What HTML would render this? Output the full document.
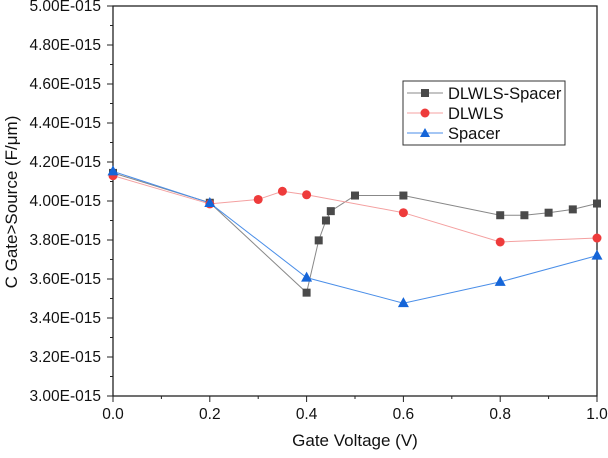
<!DOCTYPE html>
<html><head><meta charset="utf-8"><style>
body{margin:0;background:#fff;}
svg{display:block;font-family:"Liberation Sans",Arial,sans-serif;}
</style></head><body>
<svg id="chart" width="608" height="458">
<g id="axes"></g><g id="series"></g>
<g>
<rect x="403" y="81" width="162" height="64" fill="#fff" stroke="#333" stroke-width="1"/>
<g>
<line x1="407" y1="93" x2="443" y2="93" stroke="#888" stroke-width="1"/>
<rect x="421" y="89" width="8" height="8" fill="#4a4a4a"/>
<text x="448" y="99" font-size="16.5" fill="#111">DLWLS-Spacer</text></g>
<g>
<line x1="407" y1="113" x2="443" y2="113" stroke="#f4a0a0" stroke-width="1"/>
<circle cx="425" cy="113" r="4.5" fill="#ee3b3b"/>
<text x="448" y="119" font-size="16.5" fill="#111">DLWLS</text></g>
<g>
<line x1="407" y1="133" x2="443" y2="133" stroke="#4a8ee8" stroke-width="1"/>
<polygon points="425,128 430,137 420,137" fill="#1565d8"/>
<text x="448" y="139" font-size="16.5" fill="#111">Spacer</text></g>
</g>
<text x="355" y="446" font-size="17" text-anchor="middle" fill="#111">Gate Voltage (V)</text>
<text transform="translate(17,202) rotate(-90)" font-size="17" text-anchor="middle" fill="#111">C Gate&gt;Source (F/μm)</text>
</svg>
<script>
const xTicks=[0,0.2,0.4,0.6,0.8,1.0];
const xTickLabels=["0.0","0.2","0.4","0.6","0.8","1.0"];
const yTicks=[3.0,3.2,3.4,3.6,3.8,4.0,4.2,4.4,4.6,4.8,5.0];
const yTickLabels=["3.00E-015","3.20E-015","3.40E-015","3.60E-015","3.80E-015","4.00E-015","4.20E-015","4.40E-015","4.60E-015","4.80E-015","5.00E-015"];
const sqX=[0,0.2,0.4,0.425,0.44,0.45,0.5,0.6,0.8,0.85,0.9,0.95,1.0];
const sqY=[4.144,3.991,3.530,3.798,3.900,3.948,4.028,4.028,3.927,3.927,3.940,3.957,3.987];
const redX=[0,0.2,0.3,0.35,0.4,0.6,0.8,1.0];
const redY=[4.130,3.985,4.008,4.050,4.032,3.940,3.790,3.810];
const blueX=[0,0.2,0.4,0.6,0.8,1.0];
const blueY=[4.152,3.990,3.607,3.476,3.585,3.720];
const L=113,R=597,T=6,B=396;
const xs=v=>L+(v-0)/(1-0)*(R-L);
const ys=v=>B-(v-3)/(5-3)*(B-T);
const NS="http://www.w3.org/2000/svg";
function mk(tag,attrs,parent){const e=document.createElementNS(NS,tag);for(const k in attrs)e.setAttribute(k,attrs[k]);parent.appendChild(e);return e;}
const ax=document.getElementById('axes');
const frame=mk('rect',{x:L,y:T,width:R-L,height:B-T,fill:'none',stroke:'#222','stroke-width':1.3},ax);


xTicks.forEach((v,i)=>{
  const x=xs(v);
  mk('line',{x1:x,y1:B,x2:x,y2:B+6,stroke:'#222'},ax);
  if(i<xTicks.length-1){const xm=xs(v+0.1);mk('line',{x1:xm,y1:B,x2:xm,y2:B+3,stroke:'#222'},ax);}
  const t=mk('text',{x:x,y:B+23,'font-size':15.5,'text-anchor':'middle',fill:'#111'},ax);
  t.textContent=xTickLabels[i];
  
  
});
yTicks.forEach((v,i)=>{
  const y=ys(v);
  mk('line',{x1:L-6,y1:y,x2:L,y2:y,stroke:'#222'},ax);
  if(i<yTicks.length-1){const ym=ys(v+0.1);mk('line',{x1:L-3,y1:ym,x2:L,y2:ym,stroke:'#222'},ax);}
  const t=mk('text',{x:L-12,y:y+5,'font-size':15.5,'text-anchor':'end',fill:'#111'},ax);
  t.textContent=yTickLabels[i];
  
  
});
const sg=document.getElementById('series');
function line(X,Y,color,name){
  const p=mk('polyline',{points:X.map((x,i)=>xs(x)+','+ys(Y[i])).join(' '),fill:'none',stroke:color,'stroke-width':1},sg);
  
  
}
line(sqX,sqY,'#888','dlwls-spacer-line');
line(redX,redY,'#f4a0a0','dlwls-line');
line(blueX,blueY,'#4a8ee8','spacer-line');
sqX.forEach((x,i)=>{const r=mk('rect',{x:xs(x)-4,y:ys(sqY[i])-4,width:8,height:8,fill:'#4a4a4a'},sg);
  
  });
redX.forEach((x,i)=>{const c=mk('circle',{cx:xs(x),cy:ys(redY[i]),r:4.5,fill:'#ee3b3b'},sg);
  
  });
blueX.forEach((x,i)=>{const cx=xs(x),cy=ys(blueY[i]);const p=mk('polygon',{points:`${cx},${cy-6} ${cx+5.5},${cy+4} ${cx-5.5},${cy+4}`,fill:'#1565d8'},sg);
  
  });
</script>
</body></html>
